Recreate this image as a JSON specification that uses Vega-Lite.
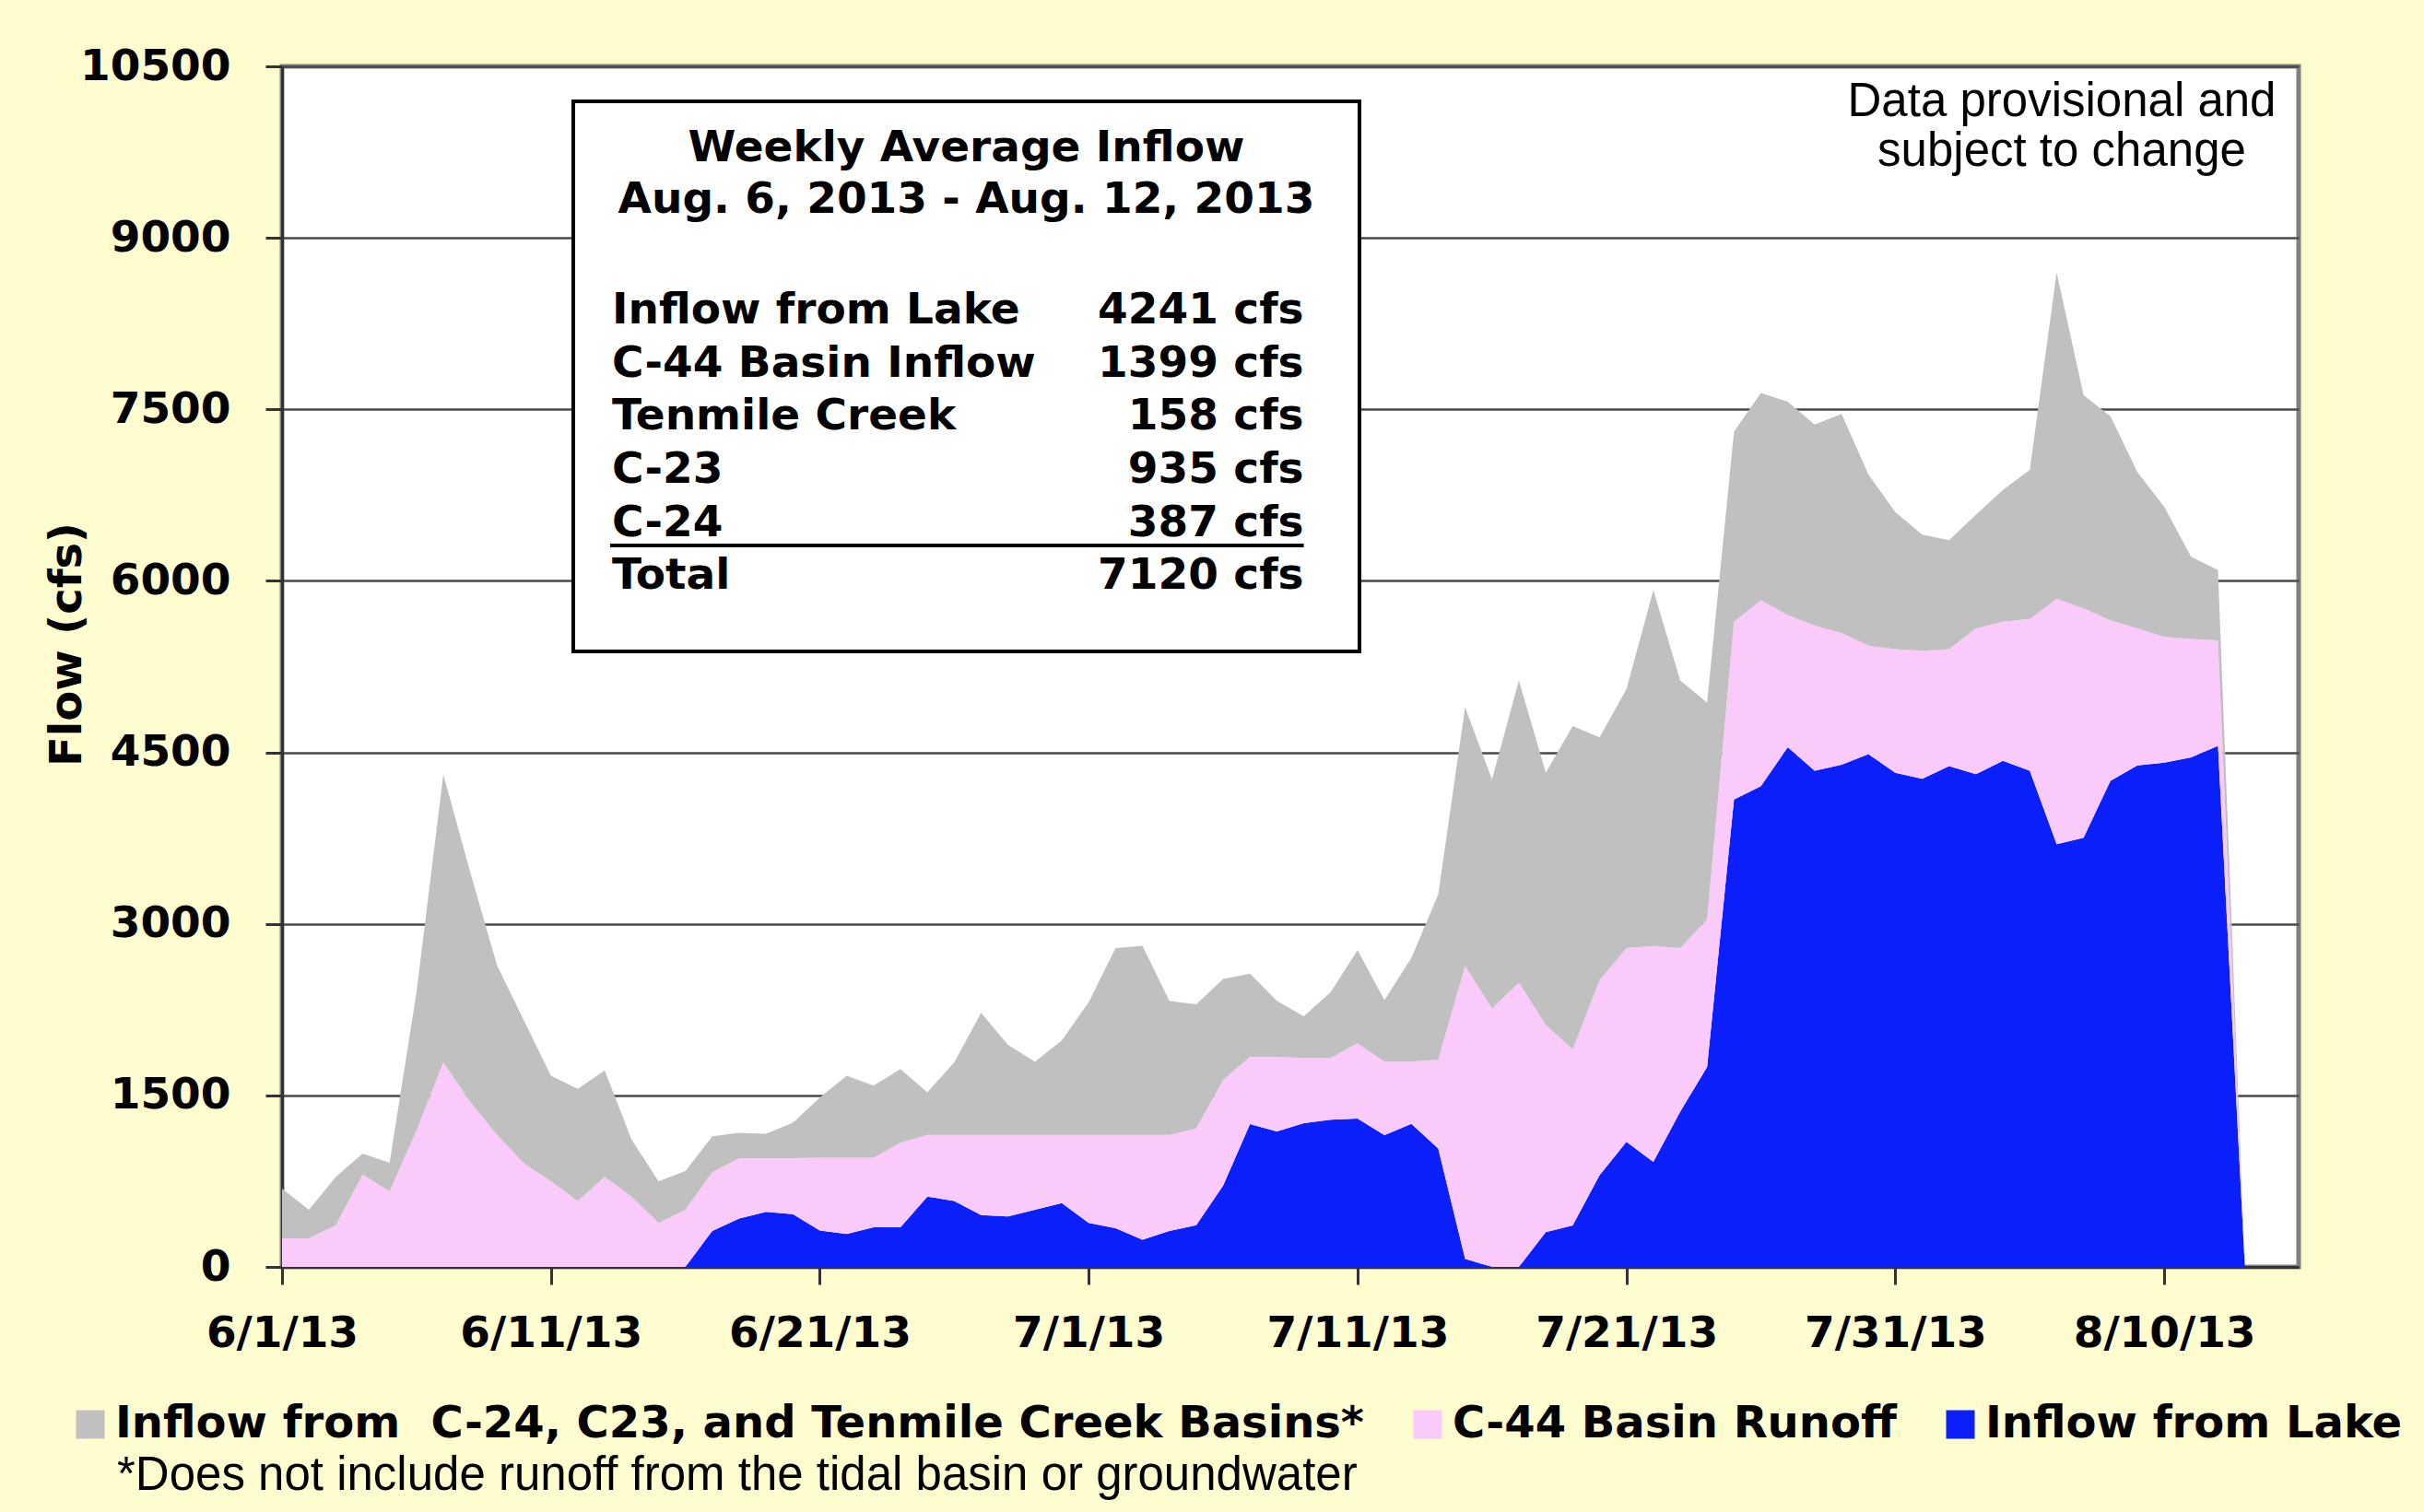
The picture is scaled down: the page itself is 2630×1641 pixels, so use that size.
{
  "$schema": "https://vega.github.io/schema/vega-lite/v6.json",
  "width": 2188,
  "height": 1303,
  "autosize": {"type": "none"},
  "padding": {"left": 306, "top": 72, "right": 136, "bottom": 266},
  "background": "#FFFCD0",
  "config": {
    "view": {"fill": "white", "stroke": "#808080", "strokeWidth": 5},
    "axis": {
      "labelFont": "DejaVu Sans", "labelFontWeight": "bold", "labelFontSize": 47, "labelColor": "#000000", "labelLimit": 1000,
      "titleFont": "DejaVu Sans", "titleFontWeight": "bold", "titleFontSize": 48, "titleColor": "#000000",
      "domainColor": "#333333", "domainWidth": 3, "tickColor": "#333333", "tickWidth": 3,
      "gridColor": "#4a4a4a", "gridWidth": 2.5
    }
  },
  "layer": [
    {
      "data": {"values": [
        {"date": "2013-06-01", "Lake": 0, "C-44": 250, "Basins": 435},
        {"date": "2013-06-02", "Lake": 0, "C-44": 250, "Basins": 250},
        {"date": "2013-06-03", "Lake": 0, "C-44": 365, "Basins": 423},
        {"date": "2013-06-04", "Lake": 0, "C-44": 808, "Basins": 184},
        {"date": "2013-06-05", "Lake": 0, "C-44": 661, "Basins": 250},
        {"date": "2013-06-06", "Lake": 0, "C-44": 1192, "Basins": 1208},
        {"date": "2013-06-07", "Lake": 0, "C-44": 1788, "Basins": 2520},
        {"date": "2013-06-08", "Lake": 0, "C-44": 1442, "Basins": 2008},
        {"date": "2013-06-09", "Lake": 0, "C-44": 1154, "Basins": 1481},
        {"date": "2013-06-10", "Lake": 0, "C-44": 904, "Basins": 1250},
        {"date": "2013-06-11", "Lake": 0, "C-44": 750, "Basins": 923},
        {"date": "2013-06-12", "Lake": 0, "C-44": 577, "Basins": 981},
        {"date": "2013-06-13", "Lake": 0, "C-44": 788, "Basins": 931},
        {"date": "2013-06-14", "Lake": 0, "C-44": 615, "Basins": 500},
        {"date": "2013-06-15", "Lake": 0, "C-44": 385, "Basins": 365},
        {"date": "2013-06-16", "Lake": 0, "C-44": 500, "Basins": 338},
        {"date": "2013-06-17", "Lake": 315, "C-44": 512, "Basins": 315},
        {"date": "2013-06-18", "Lake": 423, "C-44": 527, "Basins": 223},
        {"date": "2013-06-19", "Lake": 481, "C-44": 469, "Basins": 215},
        {"date": "2013-06-20", "Lake": 461, "C-44": 489, "Basins": 311},
        {"date": "2013-06-21", "Lake": 318, "C-44": 636, "Basins": 526},
        {"date": "2013-06-22", "Lake": 288, "C-44": 666, "Basins": 719},
        {"date": "2013-06-23", "Lake": 346, "C-44": 608, "Basins": 631},
        {"date": "2013-06-24", "Lake": 346, "C-44": 739, "Basins": 646},
        {"date": "2013-06-25", "Lake": 615, "C-44": 539, "Basins": 373},
        {"date": "2013-06-26", "Lake": 577, "C-44": 577, "Basins": 634},
        {"date": "2013-06-27", "Lake": 454, "C-44": 700, "Basins": 1069},
        {"date": "2013-06-28", "Lake": 442, "C-44": 712, "Basins": 788},
        {"date": "2013-06-29", "Lake": 500, "C-44": 654, "Basins": 642},
        {"date": "2013-06-30", "Lake": 558, "C-44": 596, "Basins": 827},
        {"date": "2013-07-01", "Lake": 385, "C-44": 769, "Basins": 1161},
        {"date": "2013-07-02", "Lake": 338, "C-44": 816, "Basins": 1634},
        {"date": "2013-07-03", "Lake": 238, "C-44": 916, "Basins": 1654},
        {"date": "2013-07-04", "Lake": 315, "C-44": 839, "Basins": 1173},
        {"date": "2013-07-05", "Lake": 365, "C-44": 846, "Basins": 1085},
        {"date": "2013-07-06", "Lake": 711, "C-44": 924, "Basins": 884},
        {"date": "2013-07-07", "Lake": 1250, "C-44": 588, "Basins": 727},
        {"date": "2013-07-08", "Lake": 1185, "C-44": 653, "Basins": 489},
        {"date": "2013-07-09", "Lake": 1258, "C-44": 569, "Basins": 365},
        {"date": "2013-07-10", "Lake": 1288, "C-44": 539, "Basins": 577},
        {"date": "2013-07-11", "Lake": 1298, "C-44": 659, "Basins": 813},
        {"date": "2013-07-12", "Lake": 1152, "C-44": 643, "Basins": 538},
        {"date": "2013-07-13", "Lake": 1251, "C-44": 544, "Basins": 907},
        {"date": "2013-07-14", "Lake": 1035, "C-44": 778, "Basins": 1444},
        {"date": "2013-07-15", "Lake": 70, "C-44": 2562, "Basins": 2263},
        {"date": "2013-07-16", "Lake": 0, "C-44": 2263, "Basins": 2000},
        {"date": "2013-07-17", "Lake": 0, "C-44": 2485, "Basins": 2644},
        {"date": "2013-07-18", "Lake": 304, "C-44": 1813, "Basins": 2205},
        {"date": "2013-07-19", "Lake": 363, "C-44": 1538, "Basins": 2830},
        {"date": "2013-07-20", "Lake": 801, "C-44": 1708, "Basins": 2123},
        {"date": "2013-07-21", "Lake": 1094, "C-44": 1695, "Basins": 2264},
        {"date": "2013-07-22", "Lake": 918, "C-44": 1889, "Basins": 3111},
        {"date": "2013-07-23", "Lake": 1357, "C-44": 1432, "Basins": 2340},
        {"date": "2013-07-24", "Lake": 1749, "C-44": 1292, "Basins": 1895},
        {"date": "2013-07-25", "Lake": 4088, "C-44": 1555, "Basins": 1661},
        {"date": "2013-07-26", "Lake": 4205, "C-44": 1625, "Basins": 1813},
        {"date": "2013-07-27", "Lake": 4544, "C-44": 1158, "Basins": 1865},
        {"date": "2013-07-28", "Lake": 4339, "C-44": 1269, "Basins": 1760},
        {"date": "2013-07-29", "Lake": 4392, "C-44": 1153, "Basins": 1915},
        {"date": "2013-07-30", "Lake": 4485, "C-44": 948, "Basins": 1497},
        {"date": "2013-07-31", "Lake": 4321, "C-44": 1083, "Basins": 1198},
        {"date": "2013-08-01", "Lake": 4269, "C-44": 1117, "Basins": 1018},
        {"date": "2013-08-02", "Lake": 4380, "C-44": 1024, "Basins": 953},
        {"date": "2013-08-03", "Lake": 4310, "C-44": 1275, "Basins": 994},
        {"date": "2013-08-04", "Lake": 4427, "C-44": 1216, "Basins": 1152},
        {"date": "2013-08-05", "Lake": 4339, "C-44": 1328, "Basins": 1304},
        {"date": "2013-08-06", "Lake": 3696, "C-44": 2146, "Basins": 2854},
        {"date": "2013-08-07", "Lake": 3754, "C-44": 2006, "Basins": 1866},
        {"date": "2013-08-08", "Lake": 4251, "C-44": 1404, "Basins": 1784},
        {"date": "2013-08-09", "Lake": 4386, "C-44": 1199, "Basins": 1368},
        {"date": "2013-08-10", "Lake": 4409, "C-44": 1100, "Basins": 1140},
        {"date": "2013-08-11", "Lake": 4456, "C-44": 1035, "Basins": 720},
        {"date": "2013-08-12", "Lake": 4556, "C-44": 924, "Basins": 614},
        {"date": "2013-08-13", "Lake": 0, "C-44": 0, "Basins": 0}
      ]},
      "transform": [{"fold": ["Lake", "C-44", "Basins"], "as": ["series", "flow"]}],
      "mark": {"type": "area", "interpolate": "linear", "opacity": 1},
      "encoding": {
        "x": {
          "field": "date", "type": "temporal",
          "scale": {"type": "utc", "nice": false, "domain": [
            {"year": 2013, "month": 6, "date": 1, "utc": true},
            {"year": 2013, "month": 8, "date": 15, "utc": true}]},
          "axis": {
            "title": null, "grid": false, "format": "%-m/%-d/%y",
            "values": [
              {"year": 2013, "month": 6, "date": 1, "utc": true},
              {"year": 2013, "month": 6, "date": 11, "utc": true},
              {"year": 2013, "month": 6, "date": 21, "utc": true},
              {"year": 2013, "month": 7, "date": 1, "utc": true},
              {"year": 2013, "month": 7, "date": 11, "utc": true},
              {"year": 2013, "month": 7, "date": 21, "utc": true},
              {"year": 2013, "month": 7, "date": 31, "utc": true},
              {"year": 2013, "month": 8, "date": 10, "utc": true}],
            "tickSize": 19, "labelPadding": 30, "labelFlush": false, "labelOverlap": false, "labelLimit": 1000
          }
        },
        "y": {
          "field": "flow", "type": "quantitative", "stack": "zero",
          "scale": {"domain": [0, 10500], "nice": false, "zero": true},
          "axis": {
            "title": "Flow (cfs)", "grid": true, "format": "d",
            "values": [0, 1500, 3000, 4500, 6000, 7500, 9000, 10500],
            "tickSize": 18, "labelPadding": 38, "labelOverlap": false,
            "titleX": -233, "titleY": 627, "titleAngle": -90, "titleAlign": "center", "titleBaseline": "middle"
          }
        },
        "color": {
          "field": "series", "type": "nominal",
          "scale": {"domain": ["Basins", "C-44", "Lake"], "range": ["#C0C0C0", "#FACAFB", "#0B1FFA"]},
          "legend": {
            "orient": "none", "direction": "horizontal", "legendX": -232, "legendY": 1450,
            "title": null, "padding": 0,
            "symbolType": "square", "symbolSize": 961, "symbolStrokeWidth": 0, "symbolOpacity": 1,
            "labelFont": "DejaVu Sans", "labelFontWeight": "bold", "labelFontSize": 48, "labelColor": "#000000",
            "labelOffset": 3, "columnPadding": 45, "labelLimit": 3000,
            "labelExpr": "datum.label == 'Basins' ? 'Inflow from\u00a0 C-24, C23, and Tenmile Creek Basins*' : (datum.label == 'C-44' ? 'C-44 Basin Runoff' : 'Inflow from Lake')"
          }
        }
      }
    },
    {
      "data": {"values": [{}]},
      "mark": {"type": "rect", "fill": "white", "stroke": "black", "strokeWidth": 4},
      "encoding": {
        "x": {"datum": {"year": 2013, "month": 6, "date": 11, "hours": 19, "minutes": 58, "utc": true}, "type": "temporal"},
        "x2": {"datum": {"year": 2013, "month": 7, "date": 11, "hours": 1, "minutes": 41, "utc": true}},
        "y": {"datum": 10194, "type": "quantitative"},
        "y2": {"datum": 5383}
      }
    },
    {
      "data": {"values": [{}]},
      "mark": {"type": "text", "text": ["Weekly Average Inflow", "Aug. 6, 2013 - Aug. 12, 2013"], "font": "DejaVu Sans", "fontWeight": "bold", "fontSize": 47, "align": "center", "baseline": "alphabetic", "lineHeight": 56, "color": "black"},
      "encoding": {
        "x": {"datum": {"year": 2013, "month": 6, "date": 26, "hours": 10, "minutes": 48, "utc": true}, "type": "temporal"},
        "y": {"datum": 9670, "type": "quantitative"}
      }
    },
    {
      "data": {"values": [{}]},
      "mark": {"type": "text", "text": ["Inflow from Lake", "C-44 Basin Inflow", "Tenmile Creek", "C-23", "C-24", "Total"], "font": "DejaVu Sans", "fontWeight": "bold", "fontSize": 47, "align": "left", "baseline": "alphabetic", "lineHeight": 57.7, "color": "black"},
      "encoding": {
        "x": {"datum": {"year": 2013, "month": 6, "date": 13, "hours": 6, "minutes": 29, "utc": true}, "type": "temporal"},
        "y": {"datum": 8252, "type": "quantitative"}
      }
    },
    {
      "data": {"values": [{}]},
      "mark": {"type": "text", "text": ["4241 cfs", "1399 cfs", "158 cfs", "935 cfs", "387 cfs", "7120 cfs"], "font": "DejaVu Sans", "fontWeight": "bold", "fontSize": 47, "align": "right", "baseline": "alphabetic", "lineHeight": 57.7, "color": "black"},
      "encoding": {
        "x": {"datum": {"year": 2013, "month": 7, "date": 9, "utc": true}, "type": "temporal"},
        "y": {"datum": 8252, "type": "quantitative"}
      }
    },
    {
      "data": {"values": [{}]},
      "mark": {"type": "rule", "color": "black", "strokeWidth": 4},
      "encoding": {
        "x": {"datum": {"year": 2013, "month": 6, "date": 13, "hours": 4, "minutes": 50, "utc": true}, "type": "temporal"},
        "x2": {"datum": {"year": 2013, "month": 7, "date": 9, "utc": true}},
        "y": {"datum": 6310, "type": "quantitative"}
      }
    },
    {
      "data": {"values": [{}]},
      "mark": {"type": "text", "text": ["Data provisional and", "subject to change"], "font": "Liberation Sans", "fontSize": 51, "align": "center", "baseline": "alphabetic", "lineHeight": 54, "color": "black"},
      "encoding": {
        "x": {"datum": {"year": 2013, "month": 8, "date": 6, "hours": 4, "minutes": 34, "utc": true}, "type": "temporal"},
        "y": {"datum": 10064, "type": "quantitative"}
      }
    },
    {
      "data": {"values": [{}]},
      "mark": {"type": "text", "text": "*Does not include runoff from the tidal basin or groundwater", "font": "Liberation Sans", "fontSize": 51, "align": "left", "baseline": "alphabetic", "color": "black"},
      "encoding": {
        "x": {"datum": {"year": 2013, "month": 5, "date": 25, "hours": 20, "minutes": 44, "utc": true}, "type": "temporal"},
        "y": {"datum": -1950, "type": "quantitative"}
      }
    }
  ]
}
